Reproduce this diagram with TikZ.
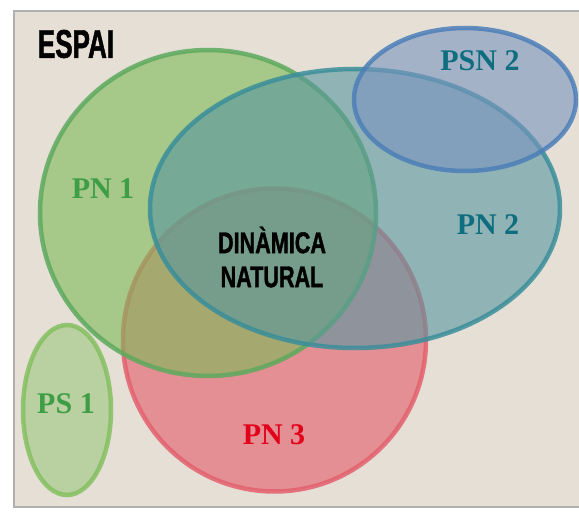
\documentclass[tikz,border=0pt]{standalone}
\usepackage{fontspec}
\setmainfont{Liberation Serif}
\newfontfamily\condsans[FakeStretch=0.72,FakeBold=1.2,UprightFont={* Bold},BoldFont={* Bold}]{Liberation Sans}
\newfontfamily\titolsans[FakeStretch=0.65,FakeBold=1.2,UprightFont={* Bold},BoldFont={* Bold}]{Liberation Sans}
\definecolor{fons}{RGB}{229,223,214}
\definecolor{vora}{RGB}{176,176,176}
\definecolor{verdPN}{RGB}{124,185,87}
\definecolor{verdPNl}{RGB}{93,170,94}
\definecolor{verdPS}{RGB}{156,198,127}
\definecolor{verdPSl}{RGB}{132,192,96}
\definecolor{blauPN}{RGB}{88,150,160}
\definecolor{blauPNl}{RGB}{58,142,154}
\definecolor{blauPSN}{RGB}{121,148,191}
\definecolor{blauPSNl}{RGB}{76,127,184}
\definecolor{vermPN}{RGB}{227,91,104}
\definecolor{vermPNl}{RGB}{228,96,110}
\definecolor{textverd}{RGB}{62,158,69}
\definecolor{textblau}{RGB}{14,110,128}
\definecolor{textverm}{RGB}{226,0,26}

\begin{document}
\begin{tikzpicture}[x=1pt,y=1pt]
					\tikzstyle{zona}=[line width=4.5pt,fill opacity=0.6,draw opacity=0.85]
					\tikzstyle{etiq}=[font=\fontsize{30}{32}\selectfont\bfseries,inner sep=0pt]
					\tikzstyle{centre}=[font=\condsans\fontsize{30}{34}\selectfont,align=center,inner sep=0pt]
					\useasboundingbox (0,0) rectangle (579,515);
					\begin{scope}
						\clip (0,0) rectangle (579,515);
						\fill[fons, draw=vora, line width=2pt] (14,8) rectangle (600,504);
					\end{scope}
					% zones
					\filldraw[zona, fill=vermPN, draw=vermPNl] (274.5,175) ellipse (151.5 and 151.5);
					\filldraw[zona, fill=verdPN, draw=verdPNl] (208,302) ellipse (168 and 163);
					\filldraw[zona, fill=blauPN, draw=blauPNl] (355,306.5) ellipse (205 and 139.5);
					\filldraw[zona, fill=blauPSN, draw=blauPSNl] (465,415.5) ellipse (111 and 71.5);
					\filldraw[zona, fill=verdPS, draw=verdPSl] (67,105) ellipse (44 and 85);
					% labels
					\node (espai) [font=\titolsans\fontsize{40}{44}\selectfont, inner sep=0pt] at (76,471) {ESPAI};
					\node (psn2) [etiq, text=textblau] at (480,454) {PSN 2};
					\node (pn1) [etiq, text=textverd] at (103,326) {PN 1};
					\node (pn2) [etiq, text=textblau] at (488,290) {PN 2};
					\node (dinamica) [centre] at (272,258) {DINÀMICA\\NATURAL};
					\node (ps1) [etiq, text=textverd] at (66,111) {PS 1};
					\node (pn3) [etiq, text=textverm] at (274,80) {PN 3};
				\end{tikzpicture}
\end{document}
